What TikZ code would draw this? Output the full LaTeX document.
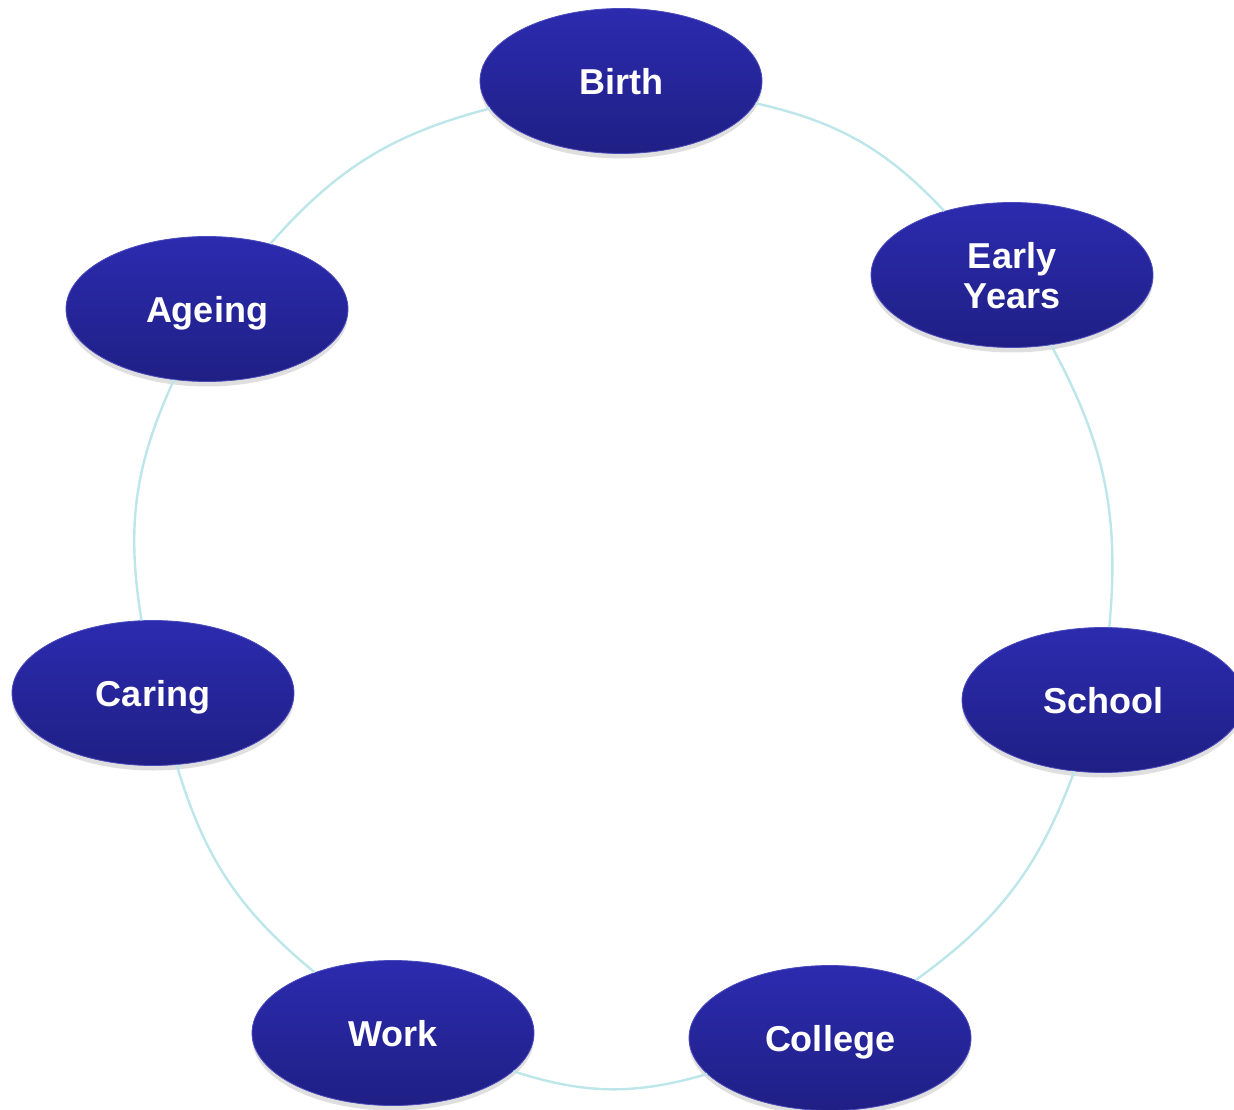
\documentclass[tikz,border=0pt]{standalone}
\usepackage{fontspec}
\setsansfont{Liberation Sans}
\usepackage{tikz}
\usetikzlibrary{shapes}
\usetikzlibrary{shadows}
\definecolor{stagetop}{HTML}{2C2BAF}
\definecolor{stagebottom}{HTML}{1F1F85}
\definecolor{linkcyan}{HTML}{BDE6EA}
\tikzstyle{stage} = [ellipse, minimum width=141pt, minimum height=72.5pt, inner sep=0pt, top color=stagetop, bottom color=stagebottom, draw=stagetop!85!white, line width=0.4pt, text=white, font=\sffamily\bfseries\fontsize{18}{20}\selectfont, align=center, text depth=0pt, drop shadow={shadow xshift=0pt, shadow yshift=-2.5pt, opacity=0.25}]
\tikzstyle{link} = [draw=linkcyan, line width=1.2pt, bend left=17]

\begin{document}
\begin{tikzpicture}[x=0.5pt, y=0.5pt]
\useasboundingbox (0,0) rectangle (1234,1109);

\node [stage] (birth) at (621,1028) {Birth};
\node [stage] (early) at (1012,834) {Early\\Years};
\node [stage] (school) at (1103,409) {School};
\node [stage] (college) at (830,71) {College};
\node [stage] (work) at (393,76) {Work};
\node [stage] (caring) at (153,416) {Caring};
\node [stage] (ageing) at (207,800) {Ageing};

\draw [link] (birth) to (early);
\draw [link] (early) to (school);
\draw [link] (school) to (college);
\draw [link] (college) to (work);
\draw [link] (work) to (caring);
\draw [link] (caring) to (ageing);
\draw [link] (ageing) to (birth);

\end{tikzpicture}
\end{document}
